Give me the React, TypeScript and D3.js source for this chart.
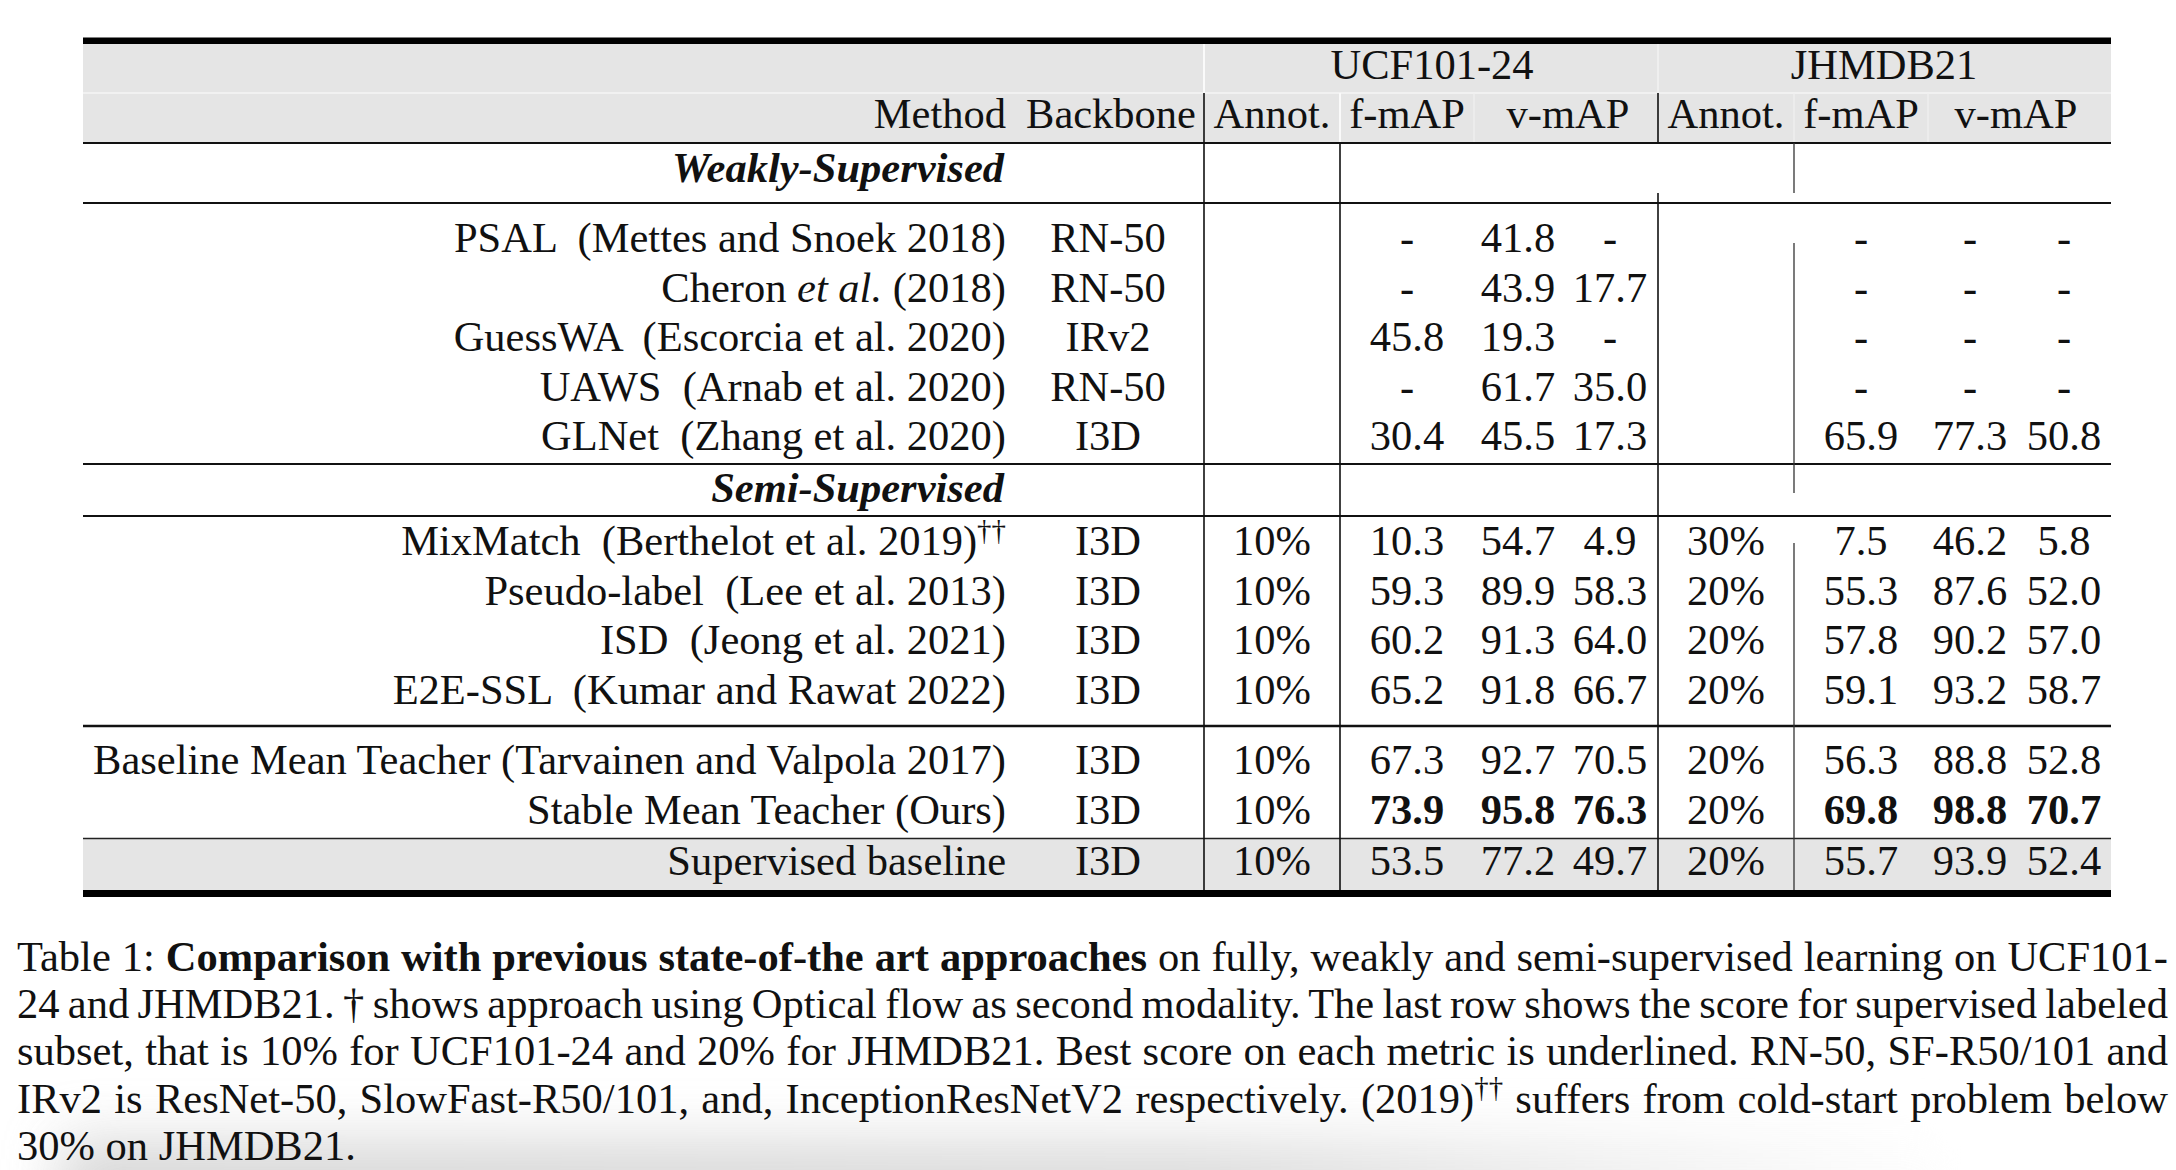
import React, { useLayoutEffect, useRef, useState } from "react";
import * as d3 from "d3";

// ---------------- DATA ----------------
const groups = ["weak", "weak", "weak", "weak", "weak", "semi", "semi", "semi", "semi", "ours", "ours", "sup"];
const methods = [
  "PSAL  (Mettes and Snoek 2018)",
  "Cheron _et al._ (2018)",
  "GuessWA  (Escorcia et al. 2020)",
  "UAWS  (Arnab et al. 2020)",
  "GLNet  (Zhang et al. 2020)",
  "MixMatch  (Berthelot et al. 2019)^††",
  "Pseudo-label  (Lee et al. 2013)",
  "ISD  (Jeong et al. 2021)",
  "E2E-SSL  (Kumar and Rawat 2022)",
  "Baseline Mean Teacher (Tarvainen and Valpola 2017)",
  "Stable Mean Teacher (Ours)",
  "Supervised baseline",
];
const backbones = ["RN-50", "RN-50", "IRv2", "RN-50", "I3D", "I3D", "I3D", "I3D", "I3D", "I3D", "I3D", "I3D"];
const ucfAnnot = [null, null, null, null, null, 10, 10, 10, 10, 10, 10, 10];
const ucfFmap = [-1, -1, 45.8, -1, 30.4, 10.3, 59.3, 60.2, 65.2, 67.3, 73.9, 53.5];
const ucfVmap02 = [41.8, 43.9, 19.3, 61.7, 45.5, 54.7, 89.9, 91.3, 91.8, 92.7, 95.8, 77.2];
const ucfVmap05 = [-1, 17.7, -1, 35.0, 17.3, 4.9, 58.3, 64.0, 66.7, 70.5, 76.3, 49.7];
const jhAnnot = [null, null, null, null, null, 30, 20, 20, 20, 20, 20, 20];
const jhFmap = [-1, -1, -1, -1, 65.9, 7.5, 55.3, 57.8, 59.1, 56.3, 69.8, 55.7];
const jhVmap02 = [-1, -1, -1, -1, 77.3, 46.2, 87.6, 90.2, 93.2, 88.8, 98.8, 93.9];
const jhVmap05 = [-1, -1, -1, -1, 50.8, 5.8, 52.0, 57.0, 58.7, 52.8, 70.7, 52.4];
const boldRows = [10];

const datasetHeaders = ["UCF101-24", "JHMDB21"];
const colHeaders = ["Annot.", "f-mAP", "v-mAP"];
const sectionLabels = ["Weakly-Supervised", "Semi-Supervised"];

const captionLines = [
  "Table 1: **Comparison with previous state-of-the art approaches** on fully, weakly and semi-supervised learning on UCF101-",
  "24 and JHMDB21. † shows approach using Optical flow as second modality. The last row shows the score for supervised labeled",
  "subset, that is 10% for UCF101-24 and 20% for JHMDB21. Best score on each metric is underlined. RN-50, SF-R50/101 and",
  "IRv2 is ResNet-50, SlowFast-R50/101, and, InceptionResNetV2 respectively. (2019)^†† suffers from cold-start problem below",
  "30% on JHMDB21.",
];

// ---------------- LAYOUT ----------------
const W = 2176, H = 1170;
const FONT = "'Liberation Serif', 'Times New Roman', serif";
const FS = 42.5;
const CFS = 42.5;
const L = 83, R = 2111;
const GRAY = "#e5e5e5";
const INK = "#111";

const colKeys = ["backbone", "ucfAnnot", "ucfF", "ucfV2", "ucfV5", "jhAnnot", "jhF", "jhV2", "jhV5"];
const colX = d3.scaleOrdinal<string, number>().domain(colKeys).range([1108, 1272, 1407, 1518, 1610, 1726, 1861, 1970, 2064]);
const groupStart: Record<string, number> = { weak: 252, semi: 555, ours: 774, sup: 875 };
const rowStep = 49.5;

const fmtNum = (v: number | null) => (v === null ? "" : v < 0 ? "-" : d3.format(".1f")(v));
const fmtPct = (v: number | null) => (v === null ? "" : `${v}%`);

function rowY(i: number) {
  const g = groups[i];
  const first = groups.indexOf(g);
  const s = d3.scaleLinear().domain([0, 1]).range([groupStart[g], groupStart[g] + rowStep]);
  return s(i - first);
}

// parse _italic_, **bold**, ^sup
function renderRich(str: string, fs: number) {
  const parts: React.ReactNode[] = [];
  const re = /(\*\*[^*]+\*\*|_[^_]+_|\^[^ ]+)/g;
  let last = 0;
  let m: RegExpExecArray | null;
  let k = 0;
  let afterSup = false;
  while ((m = re.exec(str))) {
    if (m.index > last) {
      parts.push(
        <tspan key={k++} dy={afterSup ? fs * 0.36 : undefined}>{str.slice(last, m.index)}</tspan>
      );
      afterSup = false;
    }
    const t = m[0];
    if (t.startsWith("**")) parts.push(<tspan key={k++} fontWeight="bold">{t.slice(2, -2)}</tspan>);
    else if (t.startsWith("_")) parts.push(<tspan key={k++} fontStyle="italic">{t.slice(1, -1)}</tspan>);
    else {
      parts.push(
        <tspan key={k++} fontSize={fs * 0.68} dy={-fs * 0.36}>{t.slice(1)}</tspan>
      );
      afterSup = true;
    }
    last = m.index + t.length;
  }
  if (last < str.length) parts.push(<tspan key={k++} dy={afterSup ? fs * 0.36 : undefined}>{str.slice(last)}</tspan>);
  return parts;
}

export default function App() {
  const capRefs = useRef<(SVGTextElement | null)[]>([]);
  const [spacing, setSpacing] = useState<number[]>(captionLines.map(() => 0));

  useLayoutEffect(() => {
    const target = 2168 - 17;
    const sp = captionLines.map((line, i) => {
      if (i === captionLines.length - 1) return 0;
      const el = capRefs.current[i];
      if (!el) return 0;
      const w = el.getComputedTextLength();
      const spaces = (line.replace(/\*\*|_|\^/g, "").match(/ /g) || []).length;
      return spaces ? (target - w) / spaces : 0;
    });
    setSpacing(sp);
  }, []);

  const vLine = (x: number, y1: number, y2: number, color = INK, w = 1.6, key?: string) => (
    <line key={key ?? `${x}-${y1}`} x1={x} x2={x} y1={y1} y2={y2} stroke={color} strokeWidth={w} />
  );
  const hLine = (y: number, w = 1.8, color = INK) => (
    <line key={`h${y}`} x1={L} x2={R} y1={y} y2={y} stroke={color} strokeWidth={w} />
  );

  const valueCols: [string, (number | null)[], (v: number | null) => string][] = [
    ["ucfAnnot", ucfAnnot, fmtPct],
    ["ucfF", ucfFmap, fmtNum],
    ["ucfV2", ucfVmap02, fmtNum],
    ["ucfV5", ucfVmap05, fmtNum],
    ["jhAnnot", jhAnnot, fmtPct],
    ["jhF", jhFmap, fmtNum],
    ["jhV2", jhVmap02, fmtNum],
    ["jhV5", jhVmap05, fmtNum],
  ];

  return (
    <svg width={W} height={H} style={{ position: "absolute", left: 0, top: 0, background: "#fff" }}
      fontFamily={FONT} fill={INK}>
      <defs>
        <filter id="blur" x="-20%" y="-200%" width="140%" height="500%">
          <feGaussianBlur stdDeviation="28" />
        </filter>
        <linearGradient id="shadowGrad" x1="0" x2="1" y1="0" y2="0">
          <stop offset="0" stopColor="#d0d0d0" />
          <stop offset="0.6" stopColor="#d6d6d6" />
          <stop offset="1" stopColor="#ffffff" />
        </linearGradient>
      </defs>
      <rect x={0} y={0} width={W} height={H} fill="#fff" />
      {/* bottom shadow */}
      <rect x={60} y={1140} width={1900} height={90} fill="url(#shadowGrad)" filter="url(#blur)" opacity={0.85} />

      {/* header band */}
      <rect x={L} y={44} width={R - L} height={99} fill={GRAY} />
      {/* white cell gaps in header */}
      <line x1={L} x2={R} y1={93} y2={93} stroke="#f4f4f4" strokeWidth={1.6} />
      {vLine(1204, 44, 93, "#fafafa", 2, "w1")}
      {vLine(1658, 44, 93, "#f2f2f2", 1.6, "w2")}
      {vLine(1340, 93, 143, "#fafafa", 2, "w3")}
      {vLine(1474, 93, 143, "#efefef", 1.4, "w4")}
      {vLine(1794, 93, 143, "#efefef", 1.4, "w5")}
      {vLine(1928, 93, 143, "#efefef", 1.4, "w6")}

      {/* supervised band */}
      <rect x={L} y={839} width={R - L} height={51} fill={GRAY} />

      {/* rules */}
      <rect x={L} y={37.5} width={R - L} height={6.5} fill="#000" />
      <rect x={L} y={890} width={R - L} height={7} fill="#000" />
      {hLine(143)}
      {hLine(203)}
      {hLine(464)}
      {hLine(516)}
      {hLine(726, 2.4)}
      {hLine(838.5, 1.6, "#222")}

      {/* vertical lines */}
      {vLine(1204, 93, 890)}
      {vLine(1340, 143, 890)}
      {vLine(1658, 93, 143)}
      {vLine(1658, 193, 890)}
      {vLine(1794, 143, 193, "#333", 1.3)}
      {vLine(1794, 243, 493, "#333", 1.3)}
      {vLine(1794, 543, 890, "#333", 1.3)}

      {/* header text */}
      <g fontSize={FS}>
        <text x={1432} y={79} textAnchor="middle">{datasetHeaders[0]}</text>
        <text x={1884} y={79} textAnchor="middle">{datasetHeaders[1]}</text>
        <text x={1006} y={128} textAnchor="end">Method</text>
        <text x={1196} y={128} textAnchor="end">Backbone</text>
        <text x={colX("ucfAnnot")} y={128} textAnchor="middle">{colHeaders[0]}</text>
        <text x={colX("ucfF")} y={128} textAnchor="middle">{colHeaders[1]}</text>
        <text x={1568} y={128} textAnchor="middle">{colHeaders[2]}</text>
        <text x={colX("jhAnnot")} y={128} textAnchor="middle">{colHeaders[0]}</text>
        <text x={colX("jhF")} y={128} textAnchor="middle">{colHeaders[1]}</text>
        <text x={2016} y={128} textAnchor="middle">{colHeaders[2]}</text>

        <text x={1004} y={182} textAnchor="end" fontWeight="bold" fontStyle="italic">{sectionLabels[0]}</text>
        <text x={1004} y={502} textAnchor="end" fontWeight="bold" fontStyle="italic">{sectionLabels[1]}</text>

        {methods.map((m, i) => (
          <text key={`m${i}`} x={1006} y={rowY(i)} textAnchor="end" style={{ whiteSpace: "pre" }}>
            {renderRich(m, FS)}
          </text>
        ))}
        {backbones.map((b, i) => (
          <text key={`b${i}`} x={colX("backbone")} y={rowY(i)} textAnchor="middle">{b}</text>
        ))}
        {valueCols.map(([key, arr, fmt]) =>
          arr.map((v, i) => (
            <text key={`${key}${i}`} x={colX(key)} y={rowY(i)} textAnchor="middle"
              fontWeight={boldRows.includes(i) && !key.endsWith("Annot") ? "bold" : "normal"}>
              {fmt(v)}
            </text>
          ))
        )}
      </g>

      {/* caption */}
      <g fontSize={CFS}>
        {captionLines.map((line, i) => (
          <text key={`c${i}`} ref={(el) => { capRefs.current[i] = el; }} x={17} y={971 + i * 47.2}
            style={{ whiteSpace: "pre", wordSpacing: `${spacing[i]}px` }}>
            {renderRich(line, CFS)}
          </text>
        ))}
      </g>
    </svg>
  );
}
